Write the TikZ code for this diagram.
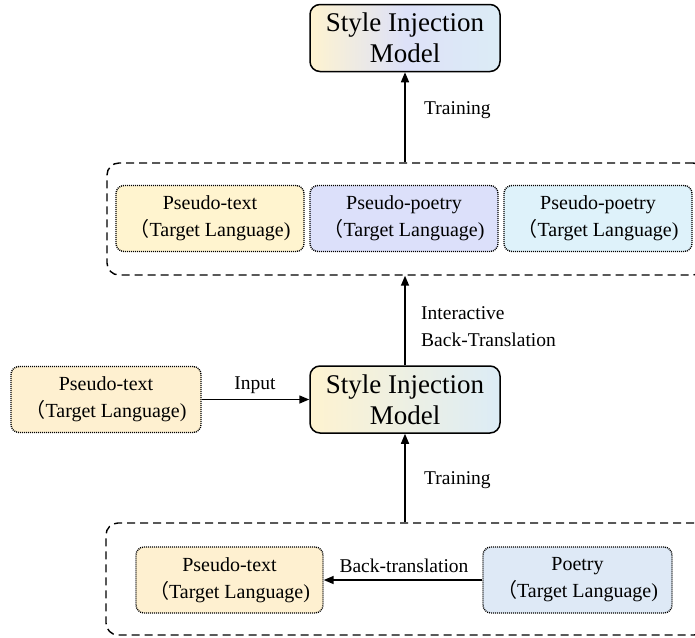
\documentclass[tikz,border=0pt]{standalone}
\usepackage{fontspec}
\setmainfont{Liberation Serif}
\newfontfamily\cjkfont{Noto Sans CJK SC}
\usetikzlibrary{arrows.meta,shapes.misc}
\definecolor{cyel}{RGB}{255,244,207}
\definecolor{corg}{RGB}{254,240,208}
\definecolor{clav}{RGB}{220,224,250}
\definecolor{ccyan}{RGB}{222,242,250}
\definecolor{cpoet}{RGB}{222,233,246}
\definecolor{gyel}{RGB}{254,243,208}
\definecolor{glav}{RGB}{221,225,248}
\definecolor{gblue}{RGB}{220,236,246}
\newcommand{\fwp}{{\cjkfont （}}
\tikzset{
  inbox/.style={draw, rounded corners=8pt, line width=1.4pt, dash pattern=on 1pt off 1pt,
    minimum width=188pt, minimum height=66pt, align=center, inner sep=0pt,
    font=\fontsize{20}{27}\selectfont},
  modelbox/.style={draw, rounded corners=10pt, line width=1.5pt,
    minimum width=190pt, minimum height=67pt, align=center, inner sep=0pt,
    font=\fontsize{27}{31}\selectfont, left color=gyel, right color=gblue, middle color=glav},
  groupbox/.style={draw, rounded corners=12pt, line width=1.4pt, dash pattern=on 8pt off 5pt,
    inner sep=0pt},
  conn/.style={line width=1.5pt, -{Triangle[length=10pt,width=8pt]}},
  lbl/.style={font=\fontsize{19.5}{27}\selectfont, inner sep=0pt, align=left}
}
\begin{document}
\begin{tikzpicture}[x=1pt,y=-1pt]
\useasboundingbox (0,0) rectangle (695,637);
\clip (0,0) rectangle (695,637);
% top model
\node[modelbox] (mtop) at (405,38) {Style Injection\\Model};
% top group
\node[groupbox, minimum width=598pt, minimum height=112pt] (gtop) at (406,219) {};
\node[inbox, fill=cyel] (b1) at (210,218.5) {Pseudo-text\\\fwp Target Language)};
\node[inbox, fill=clav] (b2) at (404,218.5) {Pseudo-poetry\\\fwp Target Language)};
\node[inbox, fill=ccyan] (b3) at (598,218.5) {Pseudo-poetry\\\fwp Target Language)};
% middle
\node[inbox, fill=corg, minimum width=190pt] (inl) at (106,399.5) {Pseudo-text\\\fwp Target Language)};
\node[modelbox, left color=gyel, right color=gblue, middle color=gblue!50!gyel] (mmid) at (405,399.5) {Style Injection\\Model};
% bottom group
\node[groupbox, minimum width=600pt, minimum height=112pt] (gbot) at (406,579) {};
\node[inbox, fill=corg, minimum width=187pt] (bp) at (229.5,580) {Pseudo-text\\\fwp Target Language)};
\node[inbox, fill=cpoet, minimum width=189pt] (bq) at (577.5,580) {Poetry\\\fwp Target Language)};
% connectors
\draw[conn] (mtop.south |- gtop.north) -- (mtop.south);
\draw[conn] (mmid.north) -- (mmid.north |- gtop.south);
\draw[conn] (mmid.south |- gbot.north) -- (mmid.south);
\draw[conn] (inl.east) -- (mmid.west);
\draw[conn] (bq.west) -- (bp.east);
% labels
\node[lbl, anchor=west] (l1) at (424,110) {Training};
\node[lbl, anchor=west] (l2) at (421,327) {Interactive\\Back-Translation};
\node[lbl] (l3) at (255,385) {Input};
\node[lbl, anchor=west] (l4) at (424,480) {Training};
\node[lbl] (l5) at (404,566) {Back-translation};
\end{tikzpicture}
\end{document}
